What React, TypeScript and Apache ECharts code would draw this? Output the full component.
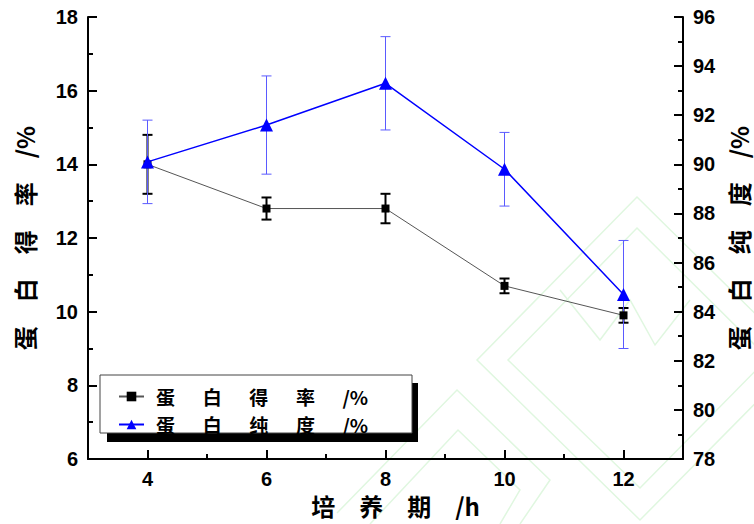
import React, { useEffect, useRef } from "react";
import * as echarts from "echarts";

const xValues = [4, 6, 8, 10, 12];
const yieldValues = [14.0, 12.8, 12.8, 10.7, 9.9];
const yieldErrors = [0.8, 0.3, 0.4, 0.2, 0.2];
const purityValues = [90.1, 91.6, 93.3, 89.8, 84.7];
const purityErrors = [1.7, 2.0, 1.9, 1.5, 2.2];
const xMajorTicks = [4, 6, 8, 10, 12];
const xMinorTicks = [5, 7, 9, 11];

const xAxisName = "培　养　期　/h";
const leftAxisName = "蛋　白　得　率　/%";
const rightAxisName = "蛋　白　纯　度　/%";
const seriesNameA = "蛋　白　得　率　/%";
const seriesNameB = "蛋　白　纯　度　/%";

const TICK_FONT = "'Liberation Sans', Arial, sans-serif";
const CJK_FONT = "'Noto Sans CJK SC', sans-serif";

function errorBar(color: string, width: number, capHalf: number) {
  return (params: any, api: any) => {
    const x = api.value(0);
    const lo = api.value(1);
    const hi = api.value(2);
    const pLo = api.coord([x, lo]);
    const pHi = api.coord([x, hi]);
    const style = { stroke: color, lineWidth: width };
    return {
      type: "group",
      children: [
        { type: "line", shape: { x1: pLo[0], y1: pLo[1], x2: pHi[0], y2: pHi[1] }, style },
        { type: "line", shape: { x1: pLo[0] - capHalf, y1: pLo[1], x2: pLo[0] + capHalf, y2: pLo[1] }, style },
        { type: "line", shape: { x1: pHi[0] - capHalf, y1: pHi[1], x2: pHi[0] + capHalf, y2: pHi[1] }, style },
      ],
    };
  };
}

export default function App() {
  const ref = useRef<HTMLDivElement>(null);
  useEffect(() => {
    if (!ref.current) return;
    const chart = echarts.init(ref.current, null, { renderer: "svg" });
    const lineA = xValues.map((x, i) => [x, yieldValues[i]]);
    const lineB = xValues.map((x, i) => [x, purityValues[i]]);
    const errA = xValues.map((x, i) => [x, yieldValues[i] - yieldErrors[i], yieldValues[i] + yieldErrors[i]]);
    const errB = xValues.map((x, i) => [x, purityValues[i] - purityErrors[i], purityValues[i] + purityErrors[i]]);

    const tickLabel = { color: "#000", fontFamily: TICK_FONT, fontWeight: "bold", fontSize: 20 };
    const axisNameStyle = { color: "#000", fontFamily: CJK_FONT, fontWeight: "bold", fontSize: 24 };
    const wm = { stroke: "#e0f7e0", lineWidth: 1.5, fill: "none" };

    chart.setOption({
      animation: false,
      backgroundColor: "#fff",
      grid: { left: 88, right: 71, top: 17, bottom: 65, containLabel: false, outerBoundsMode: "none" },
      xAxis: [
        {
          type: "value",
          min: 3,
          max: 13,
          position: "bottom",
          axisLine: { show: true, lineStyle: { color: "#000", width: 2 } },
          axisTick: { show: true, inside: true, length: 9, customValues: xMajorTicks, lineStyle: { color: "#000", width: 2 } },
          axisLabel: { show: true, customValues: xMajorTicks, margin: 10, ...tickLabel },
          splitLine: { show: false },
          name: xAxisName,
          nameLocation: "middle",
          nameGap: 31,
          nameTextStyle: { ...axisNameStyle, padding: [0, 0, 0, 20] },
        },
        {
          type: "value",
          min: 3,
          max: 13,
          position: "bottom",
          axisLine: { show: false },
          axisTick: { show: true, inside: true, length: 5, customValues: xMinorTicks, lineStyle: { color: "#000", width: 2 } },
          axisLabel: { show: false },
          splitLine: { show: false },
        },
      ],
      yAxis: [
        {
          type: "value",
          min: 6,
          max: 18,
          interval: 2,
          position: "left",
          axisLine: { show: true, lineStyle: { color: "#000", width: 2 } },
          axisTick: { show: true, inside: true, length: 9, lineStyle: { color: "#000", width: 2 } },
          minorTick: { show: true, splitNumber: 2, length: 5, lineStyle: { color: "#000", width: 2 } },
          axisLabel: { margin: 10, ...tickLabel },
          splitLine: { show: false },
          minorSplitLine: { show: false },
          name: leftAxisName,
          nameLocation: "middle",
          nameRotate: 90,
          nameGap: 52,
          nameTextStyle: axisNameStyle,
        },
        {
          type: "value",
          min: 78,
          max: 96,
          interval: 2,
          position: "right",
          axisLine: { show: true, lineStyle: { color: "#000", width: 2 } },
          axisTick: { show: true, inside: true, length: 9, lineStyle: { color: "#000", width: 2 } },
          minorTick: { show: true, splitNumber: 2, length: 5, lineStyle: { color: "#000", width: 2 } },
          axisLabel: { margin: 10, ...tickLabel },
          splitLine: { show: false },
          minorSplitLine: { show: false },
          name: rightAxisName,
          nameLocation: "middle",
          nameRotate: 90,
          nameGap: 32,
          nameTextStyle: axisNameStyle,
        },
      ],
      legend: {
        data: [seriesNameA, seriesNameB],
        orient: "vertical",
        left: 118,
        top: 387,
        itemWidth: 25,
        itemHeight: 12,
        itemGap: 9,
        padding: 0,
        z: 10,
        formatter: (name: string) => name.split("　").join("　  "),
        textStyle: { ...axisNameStyle, fontSize: 19, lineHeight: 19, padding: [0, 0, 0, 7] },
      },
      graphic: [
        { type: "polygon", z: 0, silent: true, shape: { points: [[637, 197], [800, 358], [640, 520], [477, 360]] }, style: wm },
        { type: "polygon", z: 0, silent: true, shape: { points: [[637, 228], [768, 358], [640, 488], [508, 360]] }, style: wm },
        { type: "polyline", z: 0, silent: true, shape: { points: [[337, 513], [457, 390], [550, 480], [520, 524]] }, style: wm },
        { type: "polyline", z: 0, silent: true, shape: { points: [[370, 524], [458, 430], [520, 490], [500, 524]] }, style: wm },
        { type: "polyline", z: 0, silent: true, shape: { points: [[560, 290], [600, 340], [630, 300], [655, 345], [690, 300]] }, style: wm },
        { type: "rect", z: 8, shape: { x: 107, y: 383, width: 311, height: 59 }, style: { fill: "#000" } },
        { type: "rect", z: 9, shape: { x: 100, y: 375, width: 312, height: 58 }, style: { fill: "#fff", stroke: "#444", lineWidth: 1 } },
      ],
      series: [
        {
          name: seriesNameA + "_err",
          type: "custom",
          xAxisIndex: 0,
          yAxisIndex: 0,
          renderItem: errorBar("#000", 2, 5),
          data: errA,
          encode: { x: 0, y: [1, 2] },
          z: 3,
        },
        {
          name: seriesNameB + "_err",
          type: "custom",
          xAxisIndex: 0,
          yAxisIndex: 1,
          renderItem: errorBar("#5a5aff", 1, 5),
          data: errB,
          encode: { x: 0, y: [1, 2] },
          z: 3,
        },
        {
          name: seriesNameA,
          type: "line",
          xAxisIndex: 0,
          yAxisIndex: 0,
          data: lineA,
          symbol: "rect",
          symbolSize: 8,
          lineStyle: { color: "#555", width: 1 },
          itemStyle: { color: "#000" },
          z: 4,
        },
        {
          name: seriesNameB,
          type: "line",
          xAxisIndex: 0,
          yAxisIndex: 1,
          data: lineB,
          symbol: "triangle",
          symbolSize: 13,
          lineStyle: { color: "#0000ff", width: 1.5 },
          itemStyle: { color: "#0000ff" },
          z: 5,
        },
      ],
    });
    return () => chart.dispose();
  }, []);
  return <div ref={ref} style={{ position: "fixed", left: 0, top: 0, width: 754, height: 524 }} />;
}
